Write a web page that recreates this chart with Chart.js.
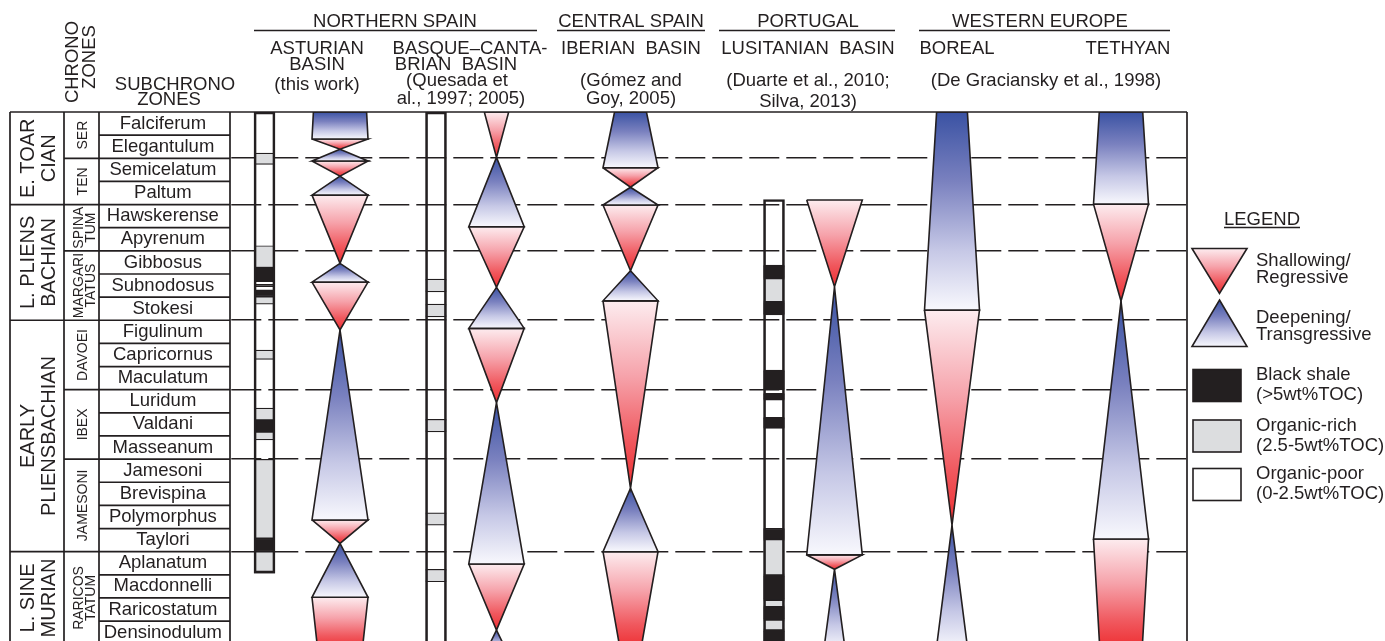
<!DOCTYPE html>
<html>
<head>
<meta charset="utf-8">
<script src="https://cdn.jsdelivr.net/npm/chart.js@4.4.1/dist/chart.umd.min.js"></script>
<style>
  html, body { margin: 0; padding: 0; background: #fff; }
  canvas { display: block; }
</style>
</head>
<body>
<canvas id="chart" width="1385" height="641"></canvas>
<script>
// ---- Stratigraphic framework (one row per ammonite subzone, youngest on top) ----
const SUBZONES = ['Falciferum', 'Elegantulum', 'Semicelatum', 'Paltum', 'Hawskerense',
  'Apyrenum', 'Gibbosus', 'Subnodosus', 'Stokesi', 'Figulinum', 'Capricornus', 'Maculatum',
  'Luridum', 'Valdani', 'Masseanum', 'Jamesoni', 'Brevispina', 'Polymorphus', 'Taylori',
  'Aplanatum', 'Macdonnelli', 'Raricostatum', 'Densinodulum'];

const ZONES = [
  { lines: ['SER'], from: 0, to: 2 },
  { lines: ['TEN'], from: 2, to: 4 },
  { lines: ['SPINA', 'TUM'], from: 4, to: 6 },
  { lines: ['MARGARI', 'TATUS'], from: 6, to: 9 },
  { lines: ['DAVOEI'], from: 9, to: 12 },
  { lines: ['IBEX'], from: 12, to: 15 },
  { lines: ['JAMESONI'], from: 15, to: 19 },
  { lines: ['RARICOS', 'TATUM'], from: 19, to: 23 }
];

const STAGES = [
  { lines: ['E. TOAR', 'CIAN'], from: 0, to: 4 },
  { lines: ['L. PLIENS', 'BACHIAN'], from: 4, to: 9 },
  { lines: ['EARLY', 'PLIENSBACHIAN'], from: 9, to: 19 },
  { lines: ['L. SINE', 'MURIAN'], from: 19, to: 23 }
];

const ZONE_BOUNDARIES = [2, 4, 6, 9, 12, 15, 19];

// ---- T-R cycles: [level in subzone units, relative amplitude 0..1] ----
const ASTURIAN_CYCLES = [[0, 0.95], [1.17, 1], [1.61, 0], [2.12, 1], [2.77, 0], [3.59, 1],
  [6.54, 0], [7.35, 1], [9.42, 0], [17.63, 1], [18.64, 0], [20.97, 1], [23.2, 0.8]];
const BASQUE_CYCLES = [[0, 0.44], [1.96, 0], [4.96, 1], [7.58, 0], [9.35, 1], [12.56, 0],
  [19.53, 1], [22.39, 0], [23.2, 0.33]];
const IBERIAN_CYCLES = [[0, 0.58], [2.41, 1], [3.25, 0], [4.02, 1], [6.86, 0], [8.16, 1],
  [16.26, 0], [19.0, 1], [23.2, 0.38]];
const LUSITANIAN_CYCLES = [[3.8, 1], [7.55, 0], [19.14, 1], [19.76, 0], [23.2, 0.38]];
const BOREAL_CYCLES = [[0, 0.56], [8.56, 1], [17.86, 0], [23.2, 0.57]];
const TETHYAN_CYCLES = [[0, 0.79], [3.98, 1], [8.17, 0], [18.45, 1], [23.2, 0.77]];

// ---- Organic-content logs: [top, base, facies] and the logged interval ----
const ASTURIAN_LOG = [[1.78, 2.26, 'rich'], [5.78, 6.73, 'rich'], [6.73, 7.33, 'shale'],
  [7.45, 7.55, 'shale'], [7.68, 7.98, 'shale'], [7.98, 8.3, 'rich'], [10.29, 10.69, 'rich'],
  [12.8, 13.31, 'rich'], [13.31, 13.82, 'shale'], [13.82, 14.17, 'rich'], [15.01, 18.42, 'rich'],
  [18.42, 19.0, 'shale'], [19.0, 19.93, 'rich']];
const ASTURIAN_LOG_SPAN = [0, 19.93];
const BASQUE_LOG = [[7.22, 7.77, 'rich'], [8.3, 8.85, 'rich'], [13.28, 13.82, 'rich'],
  [17.32, 17.85, 'rich'], [19.76, 20.3, 'rich']];
const BASQUE_LOG_SPAN = [0, 23.2];
const LUSITANIAN_LOG = [[6.61, 7.19, 'shale'], [7.19, 8.2, 'rich'], [8.2, 8.77, 'shale'],
  [11.15, 12.01, 'shale'], [12.16, 12.45, 'shale'], [13.19, 13.67, 'shale'],
  [17.99, 18.47, 'shale'], [18.47, 20.01, 'rich'], [20.01, 21.09, 'shale'],
  [21.09, 21.38, 'rich'], [21.38, 21.95, 'shale'], [21.95, 22.39, 'rich'], [22.39, 23.2, 'shale']];
const LUSITANIAN_LOG_SPAN = [3.78, 23.2];

// ---- Layout and styling ----
const INK = '#231f20';
const FONT = 'Arial, "Liberation Sans", Helvetica, sans-serif';
const TEXT_SIZE = 18.5;
const Y_MAX = 22.86;               // visible part of the last subzone
const TABLE = { left: 10, zone: 64, name: 99, nameEnd: 230, right: 1187 };
const CYCLE_COLUMNS = {
  asturian: { center: 340, half: 28 },
  basque: { center: 496.5, half: 27.7 },
  iberian: { center: 630.5, half: 27.5 },
  lusitanian: { center: 834.5, half: 27.8 },
  boreal: { center: 952, half: 27.5 },
  tethyan: { center: 1121, half: 27.5 }
};
const LOG_X = { asturian: 264.5, basque: 436, lusitanian: 774 };
const FACIES_FILL = { shale: '#231f20', rich: '#dcdddf' };
const DEEPENING_STOPS = [[0, '#3a52a3'], [0.35, '#7a81bf'], [0.7, '#c6c8e6'], [1, '#f8f8fd']];
const SHALLOWING_STOPS = [[0, '#fdecef'], [0.4, '#f6a3ab'], [0.75, '#f0585e'], [1, '#ee2d30']];

function verticalGradient(c2d, y0, y1, stops) {
  const g = c2d.createLinearGradient(0, y0, 0, y1);
  stops.forEach(([o, col]) => g.addColorStop(o, col));
  return g;
}

function cycleFill(context) {
  const ds = context.dataset;
  const chart = context.chart;
  const stops = ds.kind === 'deepening' ? DEEPENING_STOPS : SHALLOWING_STOPS;
  const y = chart.scales.y;
  if (!chart.chartArea || !y) return stops[1][1];
  return verticalGradient(chart.ctx, y.getPixelForValue(ds.from), y.getPixelForValue(ds.to), stops);
}

// One closed polygon (triangle or trapezoid) per half-cycle
function cycleDatasets(nodes, col) {
  const out = [];
  for (let i = 0; i < nodes.length - 1; i++) {
    const [v0, w0] = nodes[i];
    const [v1, w1] = nodes[i + 1];
    const pts = [];
    if (w0 > 0) { pts.push({ x: col.center - w0 * col.half, y: v0 }, { x: col.center + w0 * col.half, y: v0 }); }
    else pts.push({ x: col.center, y: v0 });
    if (w1 > 0) { pts.push({ x: col.center + w1 * col.half, y: v1 }, { x: col.center - w1 * col.half, y: v1 }); }
    else pts.push({ x: col.center, y: v1 });
    pts.push({ x: pts[0].x, y: pts[0].y });
    out.push({
      type: 'line', data: pts, kind: w1 > w0 ? 'deepening' : 'shallowing', from: v0, to: v1,
      fill: 'shape', backgroundColor: cycleFill, borderColor: INK, borderWidth: 1.6,
      borderJoinStyle: 'miter', pointRadius: 0, tension: 0, order: 2
    });
  }
  return out;
}

// Floating bars: facies cells plus the outline of the logged interval
function logDatasets(cells, span, x) {
  return [
    {
      type: 'bar', data: cells.map(([a, b]) => ({ x, y: [a, b] })),
      backgroundColor: cells.map(c => FACIES_FILL[c[2]]), borderColor: INK,
      borderWidth: { top: 1.2, bottom: 1.2, left: 0, right: 0 }, borderSkipped: false,
      barThickness: 21, grouped: false, order: 1
    },
    {
      type: 'bar', data: [{ x, y: span }], backgroundColor: 'rgba(0,0,0,0)', borderColor: INK,
      borderWidth: 2, borderSkipped: false, barThickness: 21, grouped: false, order: 0
    }
  ];
}

const datasets = [
  ...cycleDatasets(ASTURIAN_CYCLES, CYCLE_COLUMNS.asturian),
  ...cycleDatasets(BASQUE_CYCLES, CYCLE_COLUMNS.basque),
  ...cycleDatasets(IBERIAN_CYCLES, CYCLE_COLUMNS.iberian),
  ...cycleDatasets(LUSITANIAN_CYCLES, CYCLE_COLUMNS.lusitanian),
  ...cycleDatasets(BOREAL_CYCLES, CYCLE_COLUMNS.boreal),
  ...cycleDatasets(TETHYAN_CYCLES, CYCLE_COLUMNS.tethyan),
  ...logDatasets(ASTURIAN_LOG, ASTURIAN_LOG_SPAN, LOG_X.asturian),
  ...logDatasets(BASQUE_LOG, BASQUE_LOG_SPAN, LOG_X.basque),
  ...logDatasets(LUSITANIAN_LOG, LUSITANIAN_LOG_SPAN, LOG_X.lusitanian)
];

// ---- Headings, table frame and legend ----
const HEADINGS = [
  ['NORTHERN SPAIN', 395, 27], ['CENTRAL SPAIN', 631, 27], ['PORTUGAL', 808, 27], ['WESTERN EUROPE', 1040, 27],
  ['ASTURIAN', 317, 54], ['BASIN', 317, 70], ['(this work)', 317, 90],
  ['BASQUE\u2013CANTA-', 470, 54], ['BRIAN  BASIN', 456, 70], ['(Quesada et', 457, 86], ['al., 1997; 2005)', 461, 104],
  ['IBERIAN  BASIN', 631, 54], ['(G\u00f3mez and', 631, 86], ['Goy, 2005)', 631, 104],
  ['LUSITANIAN  BASIN', 808, 54], ['(Duarte et al., 2010;', 808, 86], ['Silva, 2013)', 808, 107],
  ['BOREAL', 957, 54], ['TETHYAN', 1128, 54], ['(De Graciansky et al., 1998)', 1046, 86],
  ['SUBCHRONO', 175, 90], ['ZONES', 169, 105]
];
const HEADING_RULES = [[254, 537], [557, 705], [719, 895], [919, 1170]];
const LEGEND_ITEMS = [
  { mark: 'shallowing', lines: ['Shallowing/', 'Regressive'] },
  { mark: 'deepening', lines: ['Deepening/', 'Transgressive'] },
  { mark: 'shale', lines: ['Black shale', '(>5wt%TOC)'] },
  { mark: 'rich', lines: ['Organic-rich', '(2.5-5wt%TOC)'] },
  { mark: 'poor', lines: ['Organic-poor', '(0-2.5wt%TOC)'] }
];

const framePlugin = {
  id: 'stratFrame',
  afterDraw(chart) {
    const { ctx, chartArea } = chart;
    const X = v => chart.scales.x.getPixelForValue(v);
    const Y = v => chart.scales.y.getPixelForValue(v);
    const bottom = chartArea.bottom + 2;
    ctx.save();
    ctx.strokeStyle = INK;
    ctx.fillStyle = INK;
    ctx.lineWidth = 1.7;
    const seg = (x0, y0, x1, y1) => { ctx.beginPath(); ctx.moveTo(x0, y0); ctx.lineTo(x1, y1); ctx.stroke(); };
    const vtext = (t, x, y, font) => {
      ctx.save(); ctx.translate(x, y); ctx.rotate(-Math.PI / 2);
      ctx.font = font; ctx.textAlign = 'center'; ctx.textBaseline = 'middle';
      ctx.fillText(t, 0, 0); ctx.restore();
    };

    // table frame
    seg(X(TABLE.left), Y(0), X(TABLE.right), Y(0));
    [TABLE.left, TABLE.zone, TABLE.name, TABLE.nameEnd, TABLE.right].forEach(x => seg(X(x), Y(0), X(x), bottom));
    SUBZONES.forEach((_, i) => { if (i) seg(X(TABLE.name), Y(i), X(TABLE.nameEnd), Y(i)); });
    ZONES.forEach(z => { if (z.from) seg(X(TABLE.zone), Y(z.from), X(TABLE.name), Y(z.from)); });
    STAGES.forEach(s => { if (s.from) seg(X(TABLE.left), Y(s.from), X(TABLE.zone), Y(s.from)); });

    // stage and zone names, written upwards
    STAGES.forEach(s => {
      const yc = (Y(s.from) + Y(s.to)) / 2;
      s.lines.forEach((t, k) => vtext(t, X([28, 49][k]), yc, '20px ' + FONT));
    });
    ZONES.forEach(z => {
      const yc = (Y(z.from) + Y(z.to)) / 2;
      const xs = z.lines.length === 1 ? [83] : [79.5, 91];
      z.lines.forEach((t, k) => vtext(t, X(xs[k]), yc, '14px ' + FONT));
    });

    // column headings
    ctx.font = TEXT_SIZE + 'px ' + FONT;
    ctx.textAlign = 'center';
    ctx.textBaseline = 'alphabetic';
    HEADINGS.forEach(([t, x, y]) => ctx.fillText(t, x, y));
    vtext('CHRONO', 72.5, 62, TEXT_SIZE + 'px ' + FONT);
    vtext('ZONES', 89.5, 57, TEXT_SIZE + 'px ' + FONT);
    ctx.lineWidth = 1.5;
    HEADING_RULES.forEach(([a, b]) => seg(a, 30.5, b, 30.5));

    // legend
    ctx.font = TEXT_SIZE + 'px ' + FONT;
    ctx.textAlign = 'center';
    ctx.fillText('LEGEND', 1262, 225);
    seg(1224, 227.5, 1300, 227.5);
    ctx.textAlign = 'left';
    const textRows = [[266, 283], [323, 340], [380, 400], [431, 451], [479, 499]];
    LEGEND_ITEMS.forEach((item, i) => {
      ctx.lineWidth = 1.6;
      ctx.strokeStyle = INK;
      if (item.mark === 'shallowing') {
        ctx.beginPath(); ctx.moveTo(1192, 248.5); ctx.lineTo(1247, 248.5); ctx.lineTo(1219.5, 293.5); ctx.closePath();
        ctx.fillStyle = verticalGradient(ctx, 248.5, 293.5, SHALLOWING_STOPS); ctx.fill(); ctx.stroke();
      } else if (item.mark === 'deepening') {
        ctx.beginPath(); ctx.moveTo(1219.5, 300); ctx.lineTo(1247, 346.5); ctx.lineTo(1192, 346.5); ctx.closePath();
        ctx.fillStyle = verticalGradient(ctx, 300, 346.5, DEEPENING_STOPS); ctx.fill(); ctx.stroke();
      } else {
        const top = [369.5, 420, 468.5][i - 2];
        ctx.fillStyle = item.mark === 'poor' ? '#ffffff' : FACIES_FILL[item.mark];
        ctx.fillRect(1193, top, 48, 32);
        ctx.strokeRect(1193, top, 48, 32);
      }
      ctx.fillStyle = INK;
      item.lines.forEach((t, k) => ctx.fillText(t, 1256, textRows[i][k]));
    });
    ctx.restore();
  }
};

Chart.defaults.font.family = FONT;
Chart.defaults.color = INK;

new Chart(document.getElementById('chart'), {
  type: 'scatter',
  data: { datasets },
  options: {
    responsive: false,
    devicePixelRatio: 1,
    animation: false,
    events: [],
    layout: { padding: { left: TABLE.name, right: 1385 - TABLE.right, top: 112, bottom: 0 } },
    plugins: { legend: { display: false }, tooltip: { enabled: false } },
    scales: {
      x: { type: 'linear', min: TABLE.nameEnd, max: TABLE.right, display: false, offset: false, grid: { offset: false } },
      y: {
        type: 'linear', position: 'left', min: 0, max: Y_MAX, reverse: true,
        afterBuildTicks: s => { s.ticks = SUBZONES.map((_, i) => ({ value: i + 0.5 })); },
        afterFit: s => { s.width = TABLE.nameEnd - TABLE.name; s.paddingTop = 0; s.paddingBottom = 0; },
        ticks: {
          autoSkip: false, crossAlign: 'center', padding: 8, color: INK, font: { size: TEXT_SIZE },
          callback: v => SUBZONES[Math.floor(v)]
        },
        grid: { display: false, drawTicks: false },
        border: { display: false }
      },
      yZones: {
        type: 'linear', position: 'right', min: 0, max: Y_MAX, reverse: true,
        afterBuildTicks: s => { s.ticks = ZONE_BOUNDARIES.map(v => ({ value: v })); },
        afterFit: s => { s.width = 0; s.paddingTop = 0; s.paddingBottom = 0; },
        ticks: { display: false },
        grid: { color: INK, lineWidth: 1.6, drawTicks: false, drawOnChartArea: true },
        border: { display: false, dash: [30, 7], dashOffset: 35.7 }
      }
    }
  },
  plugins: [framePlugin]
});
</script>
</body>
</html>
